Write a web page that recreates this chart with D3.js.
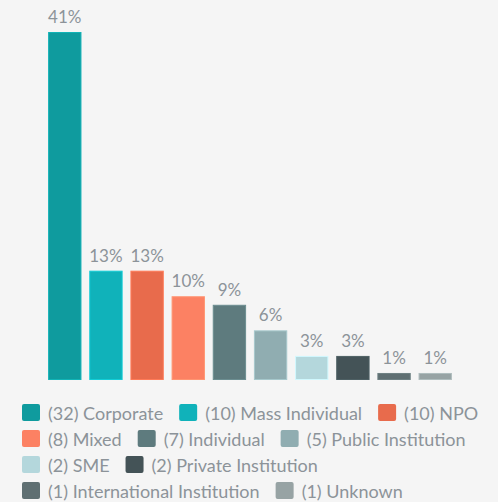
<!DOCTYPE html>
<html>
<head>
<meta charset="utf-8">
<script src="https://cdn.jsdelivr.net/npm/d3@7"></script>
<style>
  html, body { margin: 0; padding: 0; background: #f5f5f5; }
  svg { display: block; }
</style>
</head>
<body>
<svg width="498" height="502"></svg>
<script>
// данные диаграммы
const categories = ["Corporate", "Mass Individual", "NPO", "Mixed", "Individual",
                    "Public Institution", "SME", "Private Institution",
                    "International Institution", "Unknown"];
const counts = [32, 10, 10, 8, 7, 5, 2, 2, 1, 1];
const percents = [41, 13, 13, 10, 9, 6, 3, 3, 1, 1];
const colors = ["#0f9b9e", "#10b2ba", "#e86b4c", "#fc8163", "#5e7b7e",
                "#90adb1", "#b4d7dc", "#445357", "#5f6f72", "#97a3a4"];

const data = categories.map((c, i) => ({
    name: c, count: counts[i], pct: percents[i], color: colors[i]
}));

const svg = d3.select("svg");

const attr_area = {
    left: 44,
    right: 456,
    top: 32,
    baseline: 380
};

const scaleX = d3.scaleBand()
    .domain(categories)
    .range([attr_area.left, attr_area.right])
    .paddingInner(0.19)
    .paddingOuter(0.1);

const scaleY = d3.scaleLinear()
    .domain([0, d3.max(percents)])
    .range([attr_area.baseline + 1.5, attr_area.top]);

// столбцы
svg.selectAll("rect.bar")
    .data(data)
    .enter()
    .append("rect")
    .attr("class", "bar")
    .attr("x", d => scaleX(d.name) + 0.5)
    .attr("y", d => scaleY(d.pct) + 0.5)
    .attr("width", scaleX.bandwidth() - 1)
    .attr("height", d => attr_area.baseline - scaleY(d.pct) - 1)
    .style("fill", d => d.color)
    .style("stroke", d => d3.color(d.color).brighter(0.4))
    .style("stroke-width", 1);

// подписи процентов
svg.selectAll("text.label")
    .data(data)
    .enter()
    .append("text")
    .attr("class", "label")
    .attr("x", d => scaleX(d.name) + scaleX.bandwidth() / 2)
    .attr("y", d => scaleY(d.pct) - 9)
    .attr("text-anchor", "middle")
    .style("font-family", "Lato, sans-serif")
    .style("font-size", "17px")
    .style("fill", "#8c9399")
    .text(d => d.pct + "%");

// легенда с переносом строк
const legend = svg.append("g");
const maxX = 490;
let lx = 22, ly = 404;
data.forEach(d => {
    const g = legend.append("g");
    g.append("rect")
        .attr("width", 18)
        .attr("height", 17)
        .attr("rx", 2)
        .style("fill", d.color);
    const t = g.append("text")
        .attr("x", 26)
        .attr("y", 16)
        .style("font-family", "Lato, sans-serif")
        .style("font-size", "18px")
        .style("fill", "#8c9399")
        .text(`(${d.count}) ${d.name}`);
    const w = 26 + t.node().getComputedTextLength();
    if (lx + w > maxX && lx > 22) {
        lx = 22;
        ly += 26;
    }
    g.attr("transform", `translate(${lx}, ${ly})`);
    lx += w + 16;
});
</script>
</body>
</html>
